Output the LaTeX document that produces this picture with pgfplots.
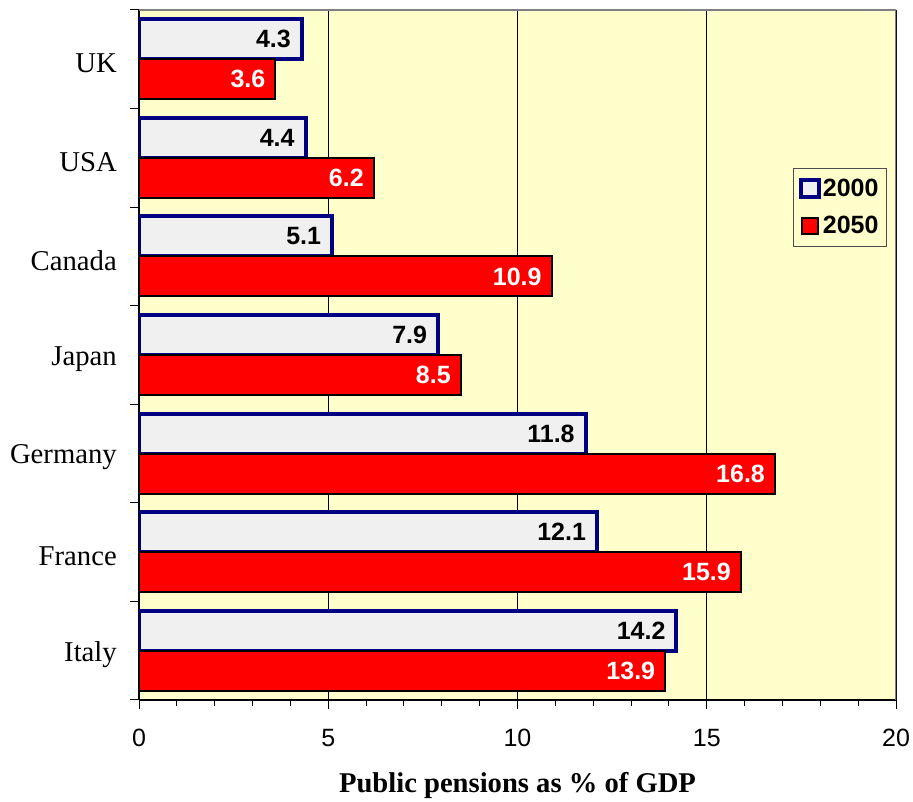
\documentclass[border=0pt]{standalone}
\usepackage{pgfplots}
\pgfplotsset{compat=1.18}
\usepackage{fontspec}
\setmainfont{Liberation Serif}
\setsansfont{Liberation Sans}
\definecolor{bgyellow}{RGB}{255,255,204}
\definecolor{navyb}{RGB}{0,0,128}
\definecolor{lightbar}{RGB}{240,240,240}
\begin{document}
\begin{tikzpicture}
\path[use as bounding box] (0,0) rectangle (913pt,802pt);
\begin{axis}[
  at={(139pt,102pt)}, anchor=south west,
  scale only axis, width=757pt, height=690pt,
  xmin=0, xmax=20, ymin=-0.5, ymax=6.5,
  xbar, bar width=40pt,
  /pgf/number format/assume math mode=true,
  axis background/.style={fill=bgyellow},
  axis x line*=bottom, axis y line*=left,
  x axis line style={black, line width=1.5pt},
  y axis line style={black, line width=2pt},
  tick align=outside,
  major tick length=9pt, minor tick length=6pt,
  every tick/.style={black, line width=1pt},
  xtick={0,5,10,15,20},
  minor x tick num=4,
  xmajorgrids, major grid style={black, line width=0.8pt},
  xticklabel style={font=\sffamily\fontsize{25}{25}\selectfont, anchor=base, inner sep=0pt, yshift=-38pt},
  ytick={-0.5,0.5,...,6.5}, yticklabels={},
  extra y ticks={0,1,2,3,4,5,6},
  extra y tick labels={Italy,France,Germany,Japan,Canada,USA,UK},
  extra y tick style={major tick length=0pt},
  yticklabel style={font=\fontsize{28.7}{28.7}\selectfont, inner sep=0pt, anchor=east, xshift=-22pt, yshift=-4pt},
  xlabel={Public pensions as \% of GDP},
  xlabel style={font=\bfseries\fontsize{28.6}{28.6}\selectfont, at={(axis description cs:0.5,-0.134)}, anchor=base, inner sep=0pt},
  nodes near coords={\pgfmathprintnumber[fixed,fixed zerofill,precision=1]{\pgfplotspointmeta}},
  point meta=x,
  every node near coord/.append style={anchor=east, xshift=-9pt, inner sep=0pt, font=\sffamily\bfseries\fontsize{25}{25}\selectfont},
  legend style={at={(axis description cs:0.988,0.771)}, anchor=north east, draw=black!70, line width=0.8pt, fill=bgyellow,
    font=\sffamily\bfseries\fontsize{25}{25}\selectfont, inner xsep=6pt, inner ysep=9pt, row sep=14pt,
    /tikz/every even column/.append style={column sep=0pt}},
  legend cell align=left,
]
\addplot+[bar shift=20pt, draw=navyb, fill=lightbar, line width=4pt,
  every node near coord/.append style={text=black},
  legend image code/.code={\draw[navyb, fill=lightbar, line width=4pt] (2pt,-8.5pt) rectangle (20pt,8.5pt);}]
  coordinates {(14.2,0) (12.1,1) (11.8,2) (7.9,3) (5.1,4) (4.4,5) (4.3,6)};
\addplot+[bar shift=-20pt, draw=black, fill=red, line width=2pt,
  every node near coord/.append style={text=white},
  legend image code/.code={\draw[black, fill=red, line width=1.5pt] (3pt,-8pt) rectangle (19pt,8pt);}]
  coordinates {(13.9,0) (15.9,1) (16.8,2) (8.5,3) (10.9,4) (6.2,5) (3.6,6)};
\legend{2000,2050}
\draw[gray, line width=2pt] (rel axis cs:0,1) -- (rel axis cs:1,1) -- (rel axis cs:1,0);
\end{axis}
\end{tikzpicture}
\end{document}
